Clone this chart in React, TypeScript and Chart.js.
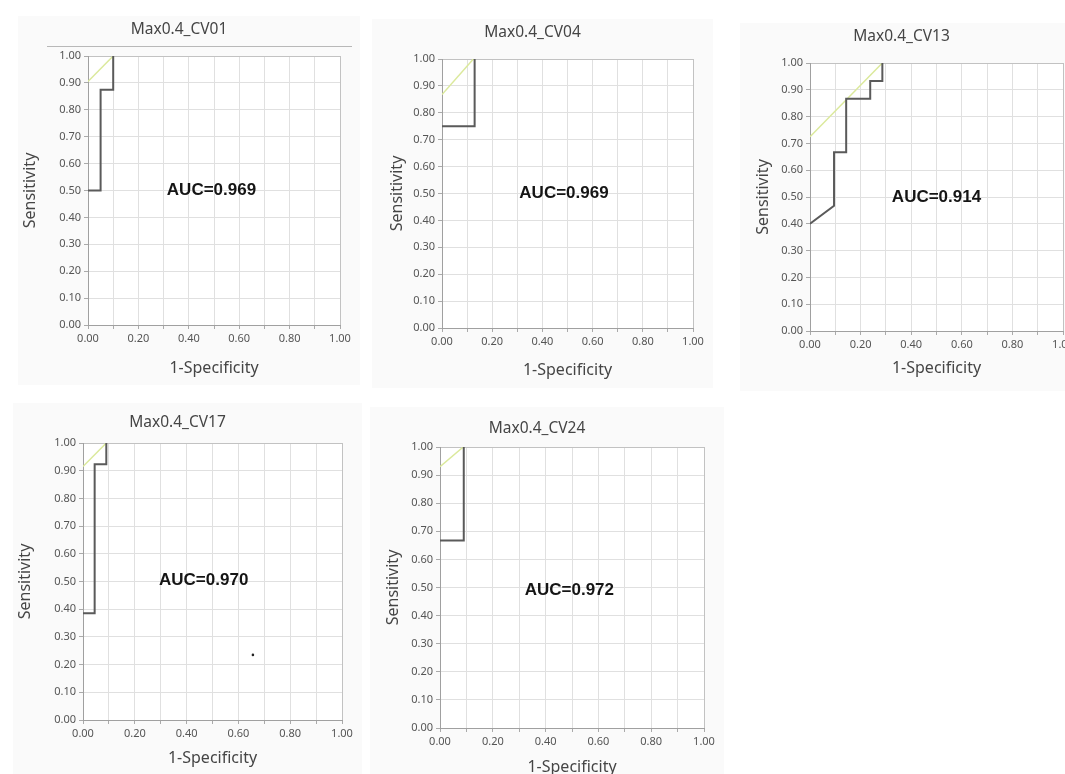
import React, { useEffect, useRef } from "react";
import { Chart, registerables } from "chart.js";

Chart.register(...registerables);

// ---------- data ----------
const panelTitles = ["Max0.4_CV01", "Max0.4_CV04", "Max0.4_CV13", "Max0.4_CV17", "Max0.4_CV24"];
const aucLabels = ["AUC=0.969", "AUC=0.969", "AUC=0.914", "AUC=0.970", "AUC=0.972"];
const xAxisTitle = "1-Specificity";
const yAxisTitle = "Sensitivity";

// ROC step curves (1-Specificity, Sensitivity)
const cv01Fpr = [0, 0.05, 0.05, 0.10, 0.10];
const cv01Tpr = [0.50, 0.50, 0.875, 0.875, 1.00];
const cv04Fpr = [0, 0.13, 0.13];
const cv04Tpr = [0.75, 0.75, 1.00];
const cv13Fpr = [0, 0.095, 0.095, 0.143, 0.143, 0.238, 0.238, 0.286, 0.286];
const cv13Tpr = [0.40, 0.467, 0.667, 0.667, 0.867, 0.867, 0.933, 0.933, 1.00];
const cv17Fpr = [0, 0.045, 0.045, 0.09, 0.09];
const cv17Tpr = [0.385, 0.385, 0.923, 0.923, 1.00];
const cv24Fpr = [0, 0.09, 0.09];
const cv24Tpr = [0.667, 0.667, 1.00];

// tangent (yellow-green) lines
const cv01TanX = [0, 0.10];
const cv01TanY = [0.905, 1.00];
const cv04TanX = [0, 0.125];
const cv04TanY = [0.868, 1.00];
const cv13TanX = [0, 0.286];
const cv13TanY = [0.725, 1.00];
const cv17TanX = [0, 0.09];
const cv17TanY = [0.915, 1.00];
const cv24TanX = [0, 0.088];
const cv24TanY = [0.93, 1.00];

// stray dot in CV17 panel
const cv17DotX = [0.656];
const cv17DotY = [0.235];

const rocX = [cv01Fpr, cv04Fpr, cv13Fpr, cv17Fpr, cv24Fpr];
const rocY = [cv01Tpr, cv04Tpr, cv13Tpr, cv17Tpr, cv24Tpr];
const tanX = [cv01TanX, cv04TanX, cv13TanX, cv17TanX, cv24TanX];
const tanY = [cv01TanY, cv04TanY, cv13TanY, cv17TanY, cv24TanY];

// ---------- layout (page pixel positions) ----------
const panelLayouts = [
  { plotL: 88, plotT: 56, plotR: 340, plotB: 325, titleY: 30, xTitleY: 368, yTitleX: 30, aucX: 0.49, aucY: 0.50, rule: true },
  { plotL: 442, plotT: 59, plotR: 693, plotB: 328, titleY: 33, xTitleY: 370, yTitleX: 397, aucX: 0.486, aucY: 0.50, rule: false },
  { plotL: 810, plotT: 63, plotR: 1063, plotB: 331, titleY: 37, xTitleY: 368, yTitleX: 763, aucX: 0.50, aucY: 0.50, rule: false },
  { plotL: 83, plotT: 443, plotR: 342, plotB: 720, titleY: 423, xTitleY: 758, yTitleX: 25, aucX: 0.466, aucY: 0.503, rule: false },
  { plotL: 440, plotT: 447, plotR: 704, plotB: 728, titleY: 429, xTitleY: 767, yTitleX: 393, aucX: 0.49, aucY: 0.49, rule: false },
];

const LW = 70;
const TH = 40;
const RW = 20;
const BH = 60;
const TITLE_SIZE = 15.5;
const AXIS_TITLE_SIZE = 16;
const TITLE_LH = TITLE_SIZE * 1.2;
const AXIS_LH = AXIS_TITLE_SIZE * 1.2;

const toPoints = (xs: number[], ys: number[]) => xs.map((x, i) => ({ x, y: ys[i] }));

function Panel({ idx }: { idx: number }) {
  const ref = useRef<HTMLCanvasElement | null>(null);
  const lay = panelLayouts[idx];
  const plotW = lay.plotR - lay.plotL;
  const plotH = lay.plotB - lay.plotT;
  const cw = plotW + LW + RW;
  const ch = plotH + TH + BH;
  const left = lay.plotL - LW;
  const top = lay.plotT - TH;

  useEffect(() => {
    if (!ref.current) return;
    const titleTopPad = lay.titleY - top - TITLE_LH / 2;
    const titleBotPad = TH - TITLE_LH - titleTopPad;
    const yTitlePad = Math.max(0, lay.yTitleX - left - AXIS_LH / 2);
    const xTitlePad = top + ch - lay.xTitleY - AXIS_LH / 2;

    const datasets: any[] = [
      {
        data: toPoints(rocX[idx], rocY[idx]),
        showLine: true,
        borderColor: "#5a5a5a",
        borderWidth: 2,
        pointRadius: 0,
        tension: 0,
        order: 1,
      },
      {
        data: toPoints(tanX[idx], tanY[idx]),
        showLine: true,
        borderColor: "#dbe99c",
        borderWidth: 1.5,
        pointRadius: 0,
        order: 2,
      },
    ];
    if (idx === 3) {
      datasets.push({
        data: toPoints(cv17DotX, cv17DotY),
        showLine: false,
        pointRadius: 1.3,
        backgroundColor: "#222",
        borderColor: "#222",
        borderWidth: 0,
      });
    }

    const bgPlugin = {
      id: "panelBg",
      beforeDraw(chart: any) {
        const { ctx, chartArea } = chart;
        ctx.save();
        ctx.fillStyle = "#fafafa";
        ctx.fillRect(0, 0, chart.width, chart.height);
        ctx.fillStyle = "#ffffff";
        ctx.fillRect(chartArea.left, chartArea.top, chartArea.right - chartArea.left, chartArea.bottom - chartArea.top);
        if (lay.rule) {
          ctx.strokeStyle = "#b8b8b8";
          ctx.lineWidth = 1;
          ctx.beginPath();
          ctx.moveTo(chartArea.left - 41, chartArea.top - 9.5);
          ctx.lineTo(chartArea.right + 12, chartArea.top - 9.5);
          ctx.stroke();
        }
        ctx.restore();
      },
    };

    const aucPlugin = {
      id: "aucText",
      afterDatasetsDraw(chart: any) {
        const { ctx, scales } = chart;
        const px = scales.x.getPixelForValue(lay.aucX);
        const py = scales.y.getPixelForValue(lay.aucY);
        ctx.save();
        ctx.font = "bold 17px 'Liberation Sans', Arial, sans-serif";
        ctx.fillStyle = "#151515";
        ctx.textAlign = "center";
        ctx.textBaseline = "middle";
        ctx.fillText(aucLabels[idx], px, py);
        ctx.restore();
      },
    };

    const tickFont = { family: "'Noto Sans', sans-serif", size: 11 };
    const titleFont = { family: "'Noto Sans', sans-serif", size: TITLE_SIZE, weight: "normal" as const };
    const axisTitleFont = { family: "'Noto Sans', sans-serif", size: AXIS_TITLE_SIZE, weight: "normal" as const };
    const gridColor = (c: any) => (Math.abs(c.tick.value - 1) < 1e-6 ? "#c2c2c2" : "#e0e0e0");

    const chart = new Chart(ref.current, {
      type: "scatter",
      data: { datasets },
      options: {
        animation: false,
        responsive: false,
        layout: { padding: { left: 0, top: 0, right: RW, bottom: 0 } },
        plugins: {
          legend: { display: false },
          tooltip: { enabled: false },
          title: {
            display: true,
            text: panelTitles[idx],
            color: "#454545",
            font: titleFont,
            padding: { top: titleTopPad, bottom: titleBotPad },
          },
        },
        scales: {
          x: {
            type: "linear",
            min: 0,
            max: 1,
            afterFit: (s: any) => {
              s.height = BH;
            },
            ticks: {
              stepSize: 0.1,
              autoSkip: false,
              maxRotation: 0,
              color: "#555",
              font: tickFont,
              padding: 3,
              callback: (v: any) => (Math.round(Number(v) * 10) % 2 === 0 ? Number(v).toFixed(2) : ""),
            },
            grid: { color: gridColor, tickLength: 4, tickColor: "#aaa" },
            border: { color: "#a0a0a0" },
            title: {
              display: true,
              text: xAxisTitle,
              color: "#454545",
              font: axisTitleFont,
              padding: { top: 0, bottom: xTitlePad },
            },
          },
          y: {
            type: "linear",
            min: 0,
            max: 1,
            afterFit: (s: any) => {
              s.width = LW;
            },
            ticks: {
              stepSize: 0.1,
              autoSkip: false,
              color: "#555",
              font: tickFont,
              padding: 3,
              callback: (v: any) => Number(v).toFixed(2),
            },
            grid: { color: gridColor, tickLength: 4, tickColor: "#aaa" },
            border: { color: "#a0a0a0" },
            title: {
              display: true,
              text: yAxisTitle,
              color: "#454545",
              font: axisTitleFont,
              padding: { top: yTitlePad, bottom: 0 },
            },
          },
        },
      },
      plugins: [bgPlugin, aucPlugin],
    } as any);
    return () => chart.destroy();
  }, [idx]);

  return (
    <canvas
      ref={ref}
      width={cw}
      height={ch}
      style={{ position: "absolute", left, top, width: cw, height: ch }}
    />
  );
}

export default function App() {
  return (
    <div
      style={{
        position: "fixed",
        left: 0,
        top: 0,
        width: 1065,
        height: 774,
        overflow: "hidden",
        background: "#ffffff",
      }}
    >
      {panelTitles.map((_, i) => (
        <Panel key={i} idx={i} />
      ))}
    </div>
  );
}
